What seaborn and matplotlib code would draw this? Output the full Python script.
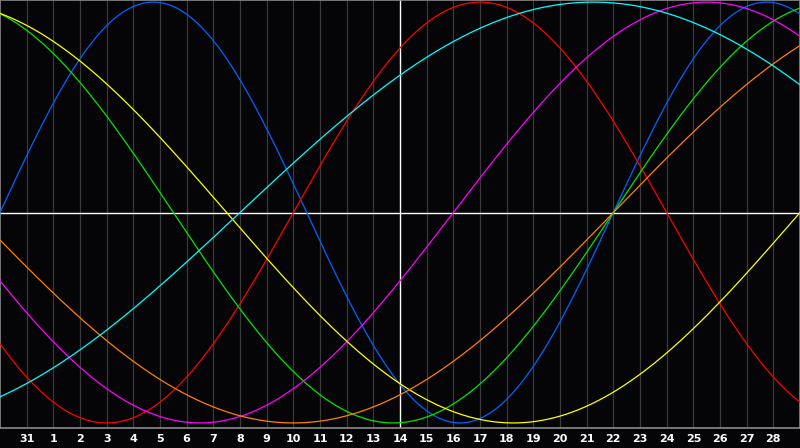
import numpy as np
import pandas as pd
import matplotlib.pyplot as plt
import seaborn as sns

# Biorhythm cycles: cycle length (days) and the chart day where each curve crosses zero going up
cycles = ['Physical', 'Emotional', 'Intellectual', 'Intuitive', 'Aesthetic', 'Awareness', 'Spiritual']
periods = [23, 28, 33, 38, 43, 48, 53]
zero_day = [0, 11, 23, 17, 30, 23, 9]
colors = ['#0064ff', '#ff0000', '#00e600', '#ff00ff', '#ffff00', '#ff8000', '#00ffff']

# Day labels along the bottom (chart starts on the 30th of the previous month)
day_labels = ['31'] + [str(d) for d in range(1, 29)]
today_pos = 15  # the 14th
n_days = 30

bg = '#050508'
sns.set_style('dark', {'axes.facecolor': bg, 'figure.facecolor': bg})

# Build long-form table of the curves
t = np.linspace(0, n_days, 1201)
rows = []
for name, p, z in zip(cycles, periods, zero_day):
    rows.append(pd.DataFrame({'day': t, 'value': np.sin(2 * np.pi * (t - z) / p), 'cycle': name}))
df = pd.concat(rows, ignore_index=True)

fig = plt.figure(figsize=(8, 4.48), dpi=100)
ax = fig.add_axes([0, 20 / 448, 1, 428 / 448])

# day grid
ticks = list(range(1, len(day_labels) + 1))
for x in ticks:
    if x != today_pos:
        ax.axvline(x, color='#3a3a3a', lw=0.9, zorder=1)
ax.axhline(0, color='white', lw=1.0, zorder=1)
ax.axvline(today_pos, color='white', lw=1.0, zorder=1)

sns.lineplot(data=df, x='day', y='value', hue='cycle', palette=dict(zip(cycles, colors)),
             hue_order=cycles, legend=False, linewidth=0.9, ax=ax, zorder=3)

ax.set_xlim(0, n_days)
ax.set_ylim(-1.024, 1.01)
ax.set_xticks(ticks)
ax.set_xticklabels(day_labels, color='white', fontsize=8, fontweight='bold')
ax.tick_params(axis='x', length=0, pad=4)
ax.set_yticks([])
ax.set_xlabel('')
ax.set_ylabel('')
ax.grid(False)
for s in ax.spines.values():
    s.set_visible(True)
    s.set_color('#8a8a8a')
    s.set_linewidth(1.2)

plt.savefig('out.png', dpi=100, facecolor=bg)
